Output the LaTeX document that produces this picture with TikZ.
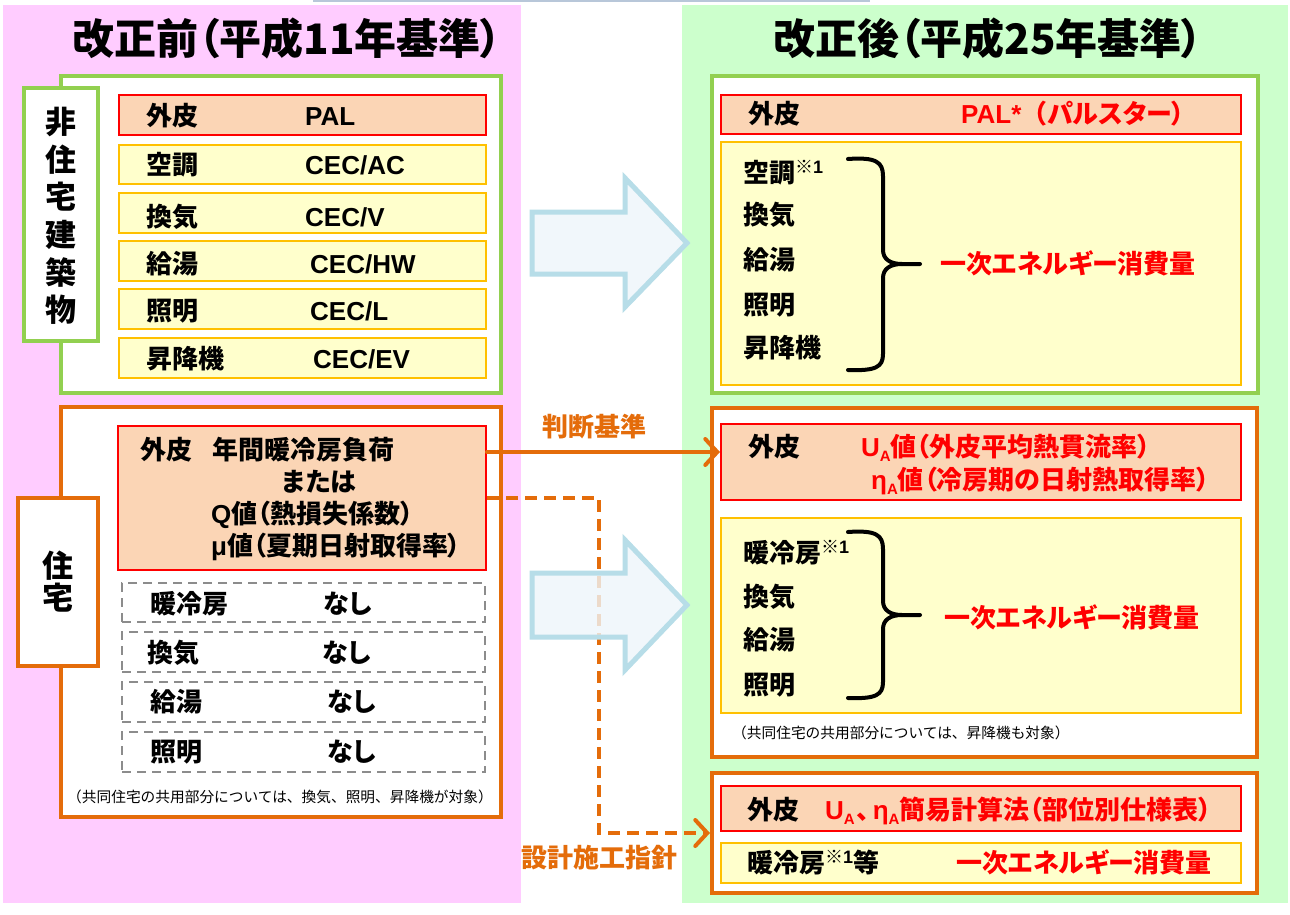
\documentclass[tikz,border=0pt]{standalone}
\usepackage{fontspec}
\usetikzlibrary{arrows.meta,fit}
\newfontfamily\jp{Noto Sans CJK JP}[RawFeature=+palt]
\newfontfamily\jpn{Noto Sans CJK JP}
\newfontfamily\lat{Liberation Sans}
\newcommand{\myfs}[1]{\fontsize{#1}{#1}\selectfont}
\newcommand{\latn}[1]{{\lat #1}}
\newcommand{\subA}{\raisebox{-5pt}{\lat\bfseries\myfs{15}A}}
\newcommand{\supx}[1]{\raisebox{9pt}{\myfs{18}#1}}
\definecolor{pinkbg}{HTML}{FFCCFF}
\definecolor{greenbg}{HTML}{CCFFCC}
\definecolor{gline}{HTML}{92D050}
\definecolor{oline}{HTML}{E46C0A}
\definecolor{peach}{HTML}{FBD5B5}
\definecolor{yfill}{HTML}{FFFFCC}
\definecolor{yline}{HTML}{FFC000}
\definecolor{dgray}{HTML}{8C8C8C}
\definecolor{bline}{HTML}{B7DDE8}
\definecolor{bfill}{HTML}{EEF6FA}
\definecolor{topl}{HTML}{B8C7D9}
\begin{document}
\begin{tikzpicture}[x=1pt,y=-1pt,
  panel/.style={inner sep=0pt, draw=none},
  gbox/.style={inner sep=0pt, draw=gline, fill=white, line width=4pt},
  obox/.style={inner sep=0pt, draw=oline, fill=white, line width=4pt},
  pbox/.style={inner sep=0pt, draw=red, fill=peach, line width=2pt},
  ybox/.style={inner sep=0pt, draw=yline, fill=yfill, line width=2pt},
  dbox/.style={inner sep=0pt, draw=dgray, fill=white, line width=2pt, dash pattern=on 9pt off 6pt},
  lab/.style={anchor=base west, inner sep=0pt, font=\jp\bfseries\myfs{26}},
  rlab/.style={lab, text=red},
  olab/.style={lab, text=oline},
  note/.style={anchor=base west, inner sep=0pt, font=\jpn\myfs{14.7}},
  title/.style={anchor=base, inner sep=0pt, font=\jp\bfseries\myfs{42}},
  brace/.style={draw=black, line width=4pt, line cap=round, line join=round},
  blockarrow/.style={draw=bline, fill=bfill, fill opacity=0.8, line width=5pt, line join=miter},
  oarrow/.style={draw=oline, line width=4pt, line cap=round, -{Straight Barb[length=12pt,width=26pt,line cap=round]}},
  odash/.style={oarrow, line cap=butt, dash pattern=on 12pt off 7pt}
]
\useasboundingbox (0,0) rectangle (1290,915);
\fill[white] (0,0) rectangle (1290,915);
\draw[topl, line width=2pt] (313,1) -- (870,1);
\node[panel, fill=pinkbg, fit={(3,5)(521,903)}] (lpanel) {};
\node[panel, fill=greenbg, fit={(682,5)(1288,903)}] (rpanel) {};

% titles
\node[title] (ltitle) at (287,55) {改正前（平成11年基準）};
\node[title] (rtitle) at (988,55) {改正後（平成25年基準）};

% ---------- left: non-residential
\node[gbox, fit={(61,76)(501,393)}] (nres) {};
\node[gbox, fit={(24,88)(98,341)}] (nreslab) {};
\node[inner sep=0pt, align=center, font=\jpn\bfseries\fontsize{31}{37.7}\selectfont] (nrestxt) at (61,216) {非\\住\\宅\\建\\築\\物};
\node[pbox, fit={(119,95)(486,135)}] (r1) {};
\node[ybox, fit={(119,145)(486,184)}] (r2) {};
\node[ybox, fit={(119,193)(486,233)}] (r3) {};
\node[ybox, fit={(119,241)(486,281)}] (r4) {};
\node[ybox, fit={(119,289)(486,329)}] (r5) {};
\node[ybox, fit={(119,338)(486,378)}] (r6) {};
\node[lab] (t1a) at (146,126) {外皮};
\node[lab] (t1b) at (305,126) {\latn{PAL}};
\node[lab] (t2a) at (146,175) {空調};
\node[lab] (t2b) at (305,175) {\latn{CEC/AC}};
\node[lab] (t3a) at (146,226) {換気};
\node[lab] (t3b) at (305,226) {\latn{CEC/V}};
\node[lab] (t4a) at (146,273) {給湯};
\node[lab] (t4b) at (310,273) {\latn{CEC/HW}};
\node[lab] (t5a) at (146,320) {照明};
\node[lab] (t5b) at (310,320) {\latn{CEC/L}};
\node[lab] (t6a) at (146,368) {昇降機};
\node[lab] (t6b) at (313,368) {\latn{CEC/EV}};

% ---------- left: residential
\node[obox, fit={(61,407)(501,817)}] (res) {};
\node[obox, fit={(18,498)(98,666)}] (reslab) {};
\node[inner sep=0pt, align=center, font=\jpn\bfseries\fontsize{31}{32}\selectfont] (restxt) at (58,582) {住\\宅};
\node[pbox, fit={(118,426)(486,570)}] (lpeach) {};
\node[lab] (p1a) at (140,459) {外皮};
\node[lab] (p1b) at (212,459) {年間暖冷房負荷};
\node[lab] (p2) at (282,491) {または};
\node[lab] (p3) at (211,523) {\latn{Q}値（熱損失係数）};
\node[lab] (p4) at (211,555) {\latn{μ}値（夏期日射取得率）};
\node[dbox, fit={(122,583)(485,622)}] (d1) {};
\node[dbox, fit={(122,632)(485,672)}] (d2) {};
\node[dbox, fit={(122,682)(485,722)}] (d3) {};
\node[dbox, fit={(122,732)(485,772)}] (d4) {};
\node[lab] (d1a) at (150,613) {暖冷房};
\node[lab] (d1b) at (323,613) {なし};
\node[lab] (d2a) at (147,662) {換気};
\node[lab] (d2b) at (322,662) {なし};
\node[lab] (d3a) at (150,711) {給湯};
\node[lab] (d3b) at (327,711) {なし};
\node[lab] (d4a) at (150,761) {照明};
\node[lab] (d4b) at (327,761) {なし};
\node[note] (lnote) at (67,802) {（共同住宅の共用部分については、換気、照明、昇降機が対象）};

% ---------- right: non-residential
\node[gbox, fit={(712,76)(1258,393)}] (rres) {};
\node[pbox, fit={(721,95)(1241,134)}] (rp1) {};
\node[ybox, fit={(721,142)(1241,385)}] (ry1) {};
\node[lab] (rt1a) at (748,124) {外皮};
\node[rlab] (rt1b) at (961,124) {\latn{PAL*}{\jpn （}パルスター）};
\node[lab] (ri1) at (743,182) {空調\supx{※\latn{1}}};
\node[lab] (ri2) at (743,224) {換気};
\node[lab] (ri3) at (743,269) {給湯};
\node[lab] (ri4) at (743,314) {照明};
\node[lab] (ri5) at (743,357) {昇降機};
\draw[brace] (848,159) .. controls (876,157) and (883,162) .. (883,176) -- (883,250) .. controls (883,259) and (890,264) .. (902,264) -- (920,264);
\draw[brace] (902,264) .. controls (890,264) and (883,269) .. (883,278) -- (883,354) .. controls (883,367) and (876,371) .. (848,370);
\node[rlab] (re1) at (940,273) {一次エネルギー消費量};

% ---------- right: residential (judgement)
\node[obox, fit={(712,408)(1257,757)}] (rmid) {};
\node[pbox, fit={(721,424)(1241,500)}] (rp2) {};
\node[ybox, fit={(721,518)(1241,713)}] (ry2) {};
\node[lab] (rt2a) at (748,456) {外皮};
\node[rlab] (rt2b) at (861,456) {\latn{U}\subA 値（外皮平均熱貫流率）};
\node[rlab] (rt2c) at (871,489) {\latn{η}\subA 値（冷房期の日射熱取得率）};
\node[lab] (rj1) at (743,562) {暖冷房\supx{※\latn{1}}};
\node[lab] (rj2) at (743,606) {換気};
\node[lab] (rj3) at (743,649) {給湯};
\node[lab] (rj4) at (743,694) {照明};
\draw[brace] (848,532) .. controls (876,530) and (883,535) .. (883,549) -- (883,601) .. controls (883,610) and (890,615) .. (902,615) -- (920,615);
\draw[brace] (902,615) .. controls (890,615) and (883,620) .. (883,629) -- (883,682) .. controls (883,695) and (876,699) .. (848,698);
\node[rlab] (re2) at (944,627) {一次エネルギー消費量};
\node[note] (rnote) at (732,738) {（共同住宅の共用部分については、昇降機も対象）};

% ---------- right: residential (design guideline)
\node[obox, fit={(712,773)(1257,893)}] (rbot) {};
\node[pbox, fit={(721,786)(1241,831)}] (rp3) {};
\node[ybox, fit={(721,843)(1241,883)}] (ry3) {};
\node[lab] (rt3a) at (747,819) {外皮};
\node[rlab] (rt3b) at (825,819) {\latn{U}\subA\hspace{2pt}、\hspace{3pt}\latn{η}\subA 簡易計算法（部位別仕様表）};
\node[lab] (rt4a) at (747,872) {暖冷房\supx{※\latn{1}}等};
\node[rlab] (rt4b) at (956,872) {一次エネルギー消費量};

% ---------- connectors
\draw[odash] (lpeach.east) -- ++(112,0) |- (rbot.west);
\draw[blockarrow] (532,212) -- (625,212) -- (625,178) -- (687,243) -- (625,307) -- (625,274) -- (532,274) -- cycle;
\draw[blockarrow] (532,573) -- (625,573) -- (625,540) -- (687,605) -- (625,670) -- (625,637) -- (532,637) -- cycle;
\coordinate (jt) at ([yshift=10pt]rp2.west);
\draw[oarrow] (lpeach.east |- jt) -- (jt);
\node[olab] (jlab) at (542,436) {判断基準};
\node[olab] (slab) at (521,867) {設計施工指針};
\end{tikzpicture}
\end{document}
